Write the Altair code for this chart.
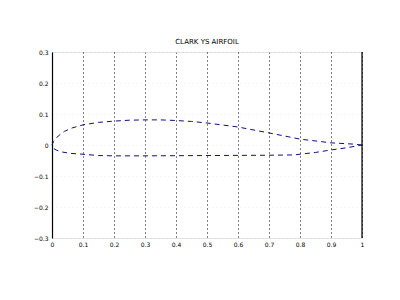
import altair as alt
import pandas as pd

title_text = "CLARK YS AIRFOIL"

upper_x = [1.0, 0.97, 0.9, 0.8, 0.7, 0.6, 0.5, 0.45, 0.4, 0.35, 0.3, 0.25, 0.2, 0.15, 0.1, 0.065, 0.04, 0.02, 0.005, 0.0]
upper_y = [0.0, 0.003, 0.007, 0.019, 0.039, 0.058, 0.071, 0.076, 0.079, 0.081, 0.081, 0.080, 0.077, 0.073, 0.065, 0.055, 0.044, 0.029, 0.012, 0.0]

lower_x = [0.003, 0.015, 0.035, 0.06, 0.09, 0.15, 0.2, 0.3, 0.5, 0.7, 0.78, 0.85, 0.9, 0.95, 1.0]
lower_y = [-0.01, -0.017, -0.023, -0.027, -0.029, -0.034, -0.035, -0.035, -0.034, -0.033, -0.032, -0.024, -0.016, -0.009, 0.0]

x_ticks = [0, 0.1, 0.2, 0.3, 0.4, 0.5, 0.6, 0.7, 0.8, 0.9, 1]
y_ticks = [-0.3, -0.2, -0.1, 0, 0.1, 0.2, 0.3]

xs = upper_x + lower_x
ys = upper_y + lower_y
df = pd.DataFrame({"x": xs, "y": ys, "order": list(range(len(xs)))})

xscale = alt.Scale(domain=[0, 1], nice=False, zero=False)
yscale = alt.Scale(domain=[-0.3, 0.3], nice=False, zero=False)

xaxis = alt.Axis(values=x_ticks, grid=True, gridColor="black", gridDash=[1, 3],
                 gridOpacity=1, domain=False, ticks=False, labelFontSize=6,
                 labelPadding=3, title=None, labelColor="black", labelFont="DejaVu Sans",
                 format="~g", labelOverlap=False, labelFlush=False)
yaxis = alt.Axis(values=y_ticks, grid=True, gridColor="#eeeeee", gridDash=[1, 3],
                 domain=True, domainColor="black", domainWidth=1.2, ticks=False,
                 labelFontSize=6, labelPadding=4, title=None, labelColor="black",
                 labelFont="DejaVu Sans", format="~g", labelOverlap=False, labelFlush=False)

line = alt.Chart(df).mark_line(color="#10107a", strokeWidth=1, strokeDash=[5, 4]).encode(
    x=alt.X("x:Q", scale=xscale, axis=xaxis),
    y=alt.Y("y:Q", scale=yscale, axis=yaxis),
    order="order:Q",
)

right_edge = alt.Chart(pd.DataFrame({"x": [1.0]})).mark_rule(color="black", strokeWidth=1.2).encode(
    x=alt.X("x:Q", scale=xscale, axis=xaxis)
)

chart = alt.layer(line, right_edge).properties(
    width=310, height=186,
    title=alt.TitleParams(title_text, fontSize=7, font="DejaVu Sans", fontWeight="normal",
                          color="black", offset=4),
    autosize="none",
    padding={"left": 52, "top": 52, "right": 38, "bottom": 62},
).configure_view(stroke=None).configure(background="white")

chart.save("out.html", embed_options={"renderer": "svg", "actions": False})
